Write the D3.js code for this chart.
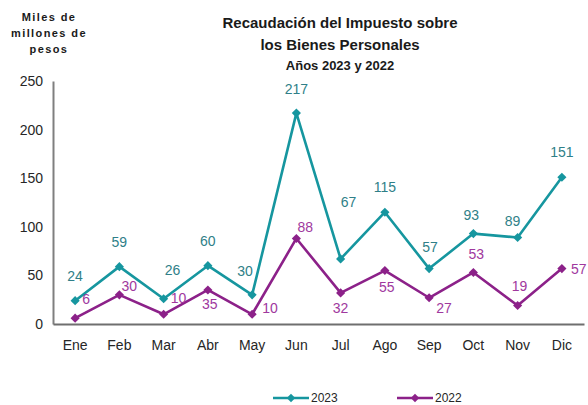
<!DOCTYPE html>
<html>
<head>
<meta charset="utf-8">
<script src="https://cdn.jsdelivr.net/npm/d3@7"></script>
<style>
  body { margin: 0; background: #fff; }
  text { font-family: "Liberation Sans", Arial, sans-serif; }
</style>
</head>
<body>
<div id="chart"></div>
<script>
// data
var months = ["Ene","Feb","Mar","Abr","May","Jun","Jul","Ago","Sep","Oct","Nov","Dic"];
var values2023 = [24, 59, 26, 60, 30, 217, 67, 115, 57, 93, 89, 151];
var values2022 = [6, 30, 10, 35, 10, 88, 32, 55, 27, 53, 19, 57];
var yTicks = [0, 50, 100, 150, 200, 250];

// where each data label sits relative to its point
var labelOff2023 = [[0,-25],[0,-25],[9,-29],[0,-25],[-7,-24],[0,-24],[8,-57],[0,-25],[1,-22],[-2,-19],[-5,-17],[0,-25]];
var labelOff2022 = [[11,-19],[10,-9],[15,-16],[2,14],[18,-6],[9,-12],[0,15],[2,16],[15,10],[3,-19],[2,-20],[17,0]];

var teal = "#16969f", tealText = "#2f7f88";
var purple = "#8c2189", purpleText = "#a0389e";

var svg = d3.select("#chart").append("svg")
    .attr("width", 588)
    .attr("height", 405);

var x = d3.scaleBand().domain(months).range([53, 584]);
var y = d3.scaleLinear().domain([0, 250]).range([324, 81]);

/** titles **/
var title = svg.append("text")
    .attr("text-anchor", "middle")
    .style("font-weight", "bold")
    .style("fill", "#1a1a1a");
title.append("tspan").attr("x", 340).attr("y", 28).style("font-size", "15px")
    .text("Recaudación del Impuesto sobre");
title.append("tspan").attr("x", 340).attr("y", 50).style("font-size", "15px")
    .text("los Bienes Personales");
title.append("tspan").attr("x", 340).attr("y", 70).style("font-size", "13px")
    .text("Años 2023 y 2022");

var ytitle = svg.append("text")
    .attr("text-anchor", "middle")
    .style("font-weight", "bold")
    .style("font-size", "11px")
    .style("letter-spacing", "1.4px")
    .style("fill", "#1a1a1a");
["Miles de", "millones de", "pesos"].forEach(function(t, i) {
  ytitle.append("tspan").attr("x", 49).attr("y", 21 + i * 16).text(t);
});

/** axes **/
var yAxis = svg.append("g")
    .attr("transform", "translate(53,0)")
    .call(d3.axisLeft(y).tickValues(yTicks).tickSize(0).tickPadding(10));
yAxis.select(".domain").attr("stroke", "#7f7f7f").attr("stroke-width", 2);
yAxis.selectAll("text").style("font-size", "14px").style("fill", "#262626")
    .attr("font-family", null);

var xAxis = svg.append("g")
    .attr("transform", "translate(0,324)")
    .call(d3.axisBottom(x).tickSize(0).tickPadding(16));
xAxis.select(".domain").attr("stroke", "#6f6f6f").attr("stroke-width", 2);
xAxis.selectAll("text").style("font-size", "14px").style("fill", "#262626")
    .attr("font-family", null);

/** series **/
function drawSeries(vals, lineColor, textColor, offs) {
  var line = d3.line()
      .x(function(d, i) { return x(months[i]) + x.bandwidth() / 2; })
      .y(function(d) { return y(d); });

  svg.append("path")
      .datum(vals)
      .attr("d", line)
      .attr("fill", "none")
      .attr("stroke", lineColor)
      .attr("stroke-width", 2.6)
      .attr("stroke-linejoin", "round");

  svg.selectAll(null)
      .data(vals)
      .enter().append("path")
      .attr("d", d3.symbol().type(d3.symbolSquare).size(42))
      .attr("transform", function(d, i) {
        return "translate(" + (x(months[i]) + x.bandwidth() / 2) + "," + y(d) + ") rotate(45)";
      })
      .attr("fill", lineColor);

  svg.selectAll(null)
      .data(vals)
      .enter().append("text")
      .attr("x", function(d, i) { return x(months[i]) + x.bandwidth() / 2 + offs[i][0]; })
      .attr("y", function(d, i) { return y(d) + offs[i][1]; })
      .attr("dy", "0.36em")
      .attr("text-anchor", "middle")
      .style("font-size", "14px")
      .style("fill", textColor)
      .text(function(d) { return d; });
}

drawSeries(values2023, teal, tealText, labelOff2023);
drawSeries(values2022, purple, purpleText, labelOff2022);

/** legend **/
var legendItems = [
  { name: "2023", color: teal, x: 273 },
  { name: "2022", color: purple, x: 397 }
];
var lg = svg.selectAll(".legend")
    .data(legendItems)
    .enter().append("g")
    .attr("class", "legend")
    .attr("transform", function(d) { return "translate(" + d.x + ",398)"; });
lg.append("line")
    .attr("x1", 0).attr("x2", 36).attr("y1", 0).attr("y2", 0)
    .attr("stroke", function(d) { return d.color; })
    .attr("stroke-width", 2.6);
lg.append("path")
    .attr("d", d3.symbol().type(d3.symbolSquare).size(36))
    .attr("transform", "translate(18,0) rotate(45)")
    .attr("fill", function(d) { return d.color; });
lg.append("text")
    .attr("x", 38).attr("y", 0).attr("dy", "0.36em")
    .style("font-size", "12px")
    .style("fill", "#262626")
    .text(function(d) { return d.name; });
</script>
</body>
</html>
